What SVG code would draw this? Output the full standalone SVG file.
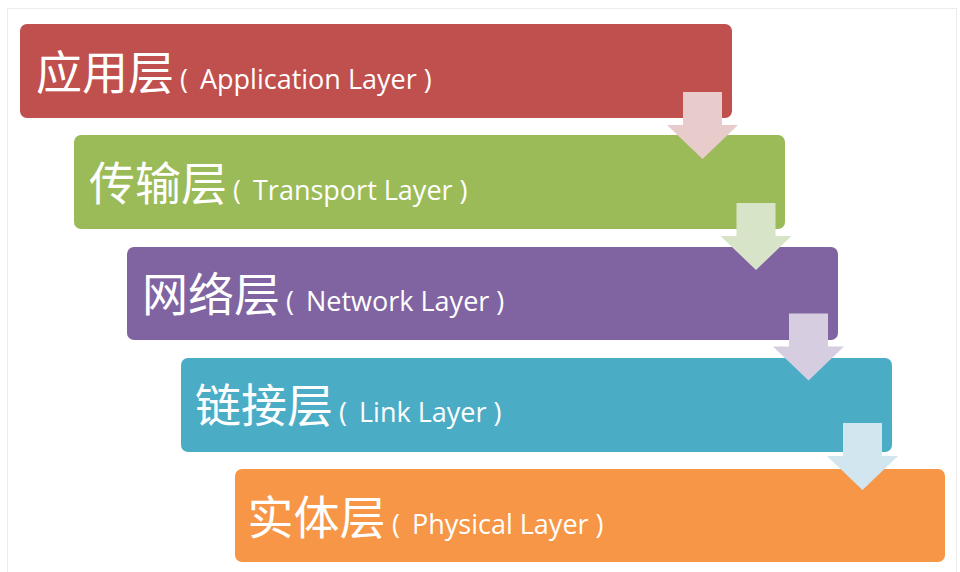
<svg xmlns="http://www.w3.org/2000/svg" xmlns:xlink="http://www.w3.org/1999/xlink" width="960" height="572" viewBox="0 0 960 572">
<style>
.bar{stroke:none}
.zh{font-family:"Noto Sans CJK SC","Noto Sans",sans-serif;font-size:46px;fill:#ffffff}
.en{font-family:"Open Sans","Noto Sans",sans-serif;font-size:27px;fill:#ffffff}
.arrow{stroke:none}
</style>
<defs>
<path id="arr" d="M0 0 h39 v33 h16 l-35.5 34 l-35.5 -34 h16 z"/>
</defs>
<rect x="7.5" y="8.5" width="949" height="580" fill="#ffffff" stroke="#ECECEC" stroke-width="1"/>
<g id="application">
<rect class="bar" x="20" y="24" width="712" height="94" rx="7" fill="#C0504D"/>
<text class="zh" x="36" y="89">应用层</text>
<text class="en" y="89"><tspan x="180">(</tspan><tspan x="200">Application Layer )</tspan></text>
</g>
<g id="transport">
<rect class="bar" x="74" y="135" width="711" height="94" rx="7" fill="#9BBB59"/>
<text class="zh" x="89" y="200">传输层</text>
<text class="en" y="200"><tspan x="233">(</tspan><tspan x="253">Transport Layer )</tspan></text>
</g>
<g id="network">
<rect class="bar" x="127" y="247" width="711" height="93" rx="7" fill="#8064A2"/>
<text class="zh" x="142" y="311">网络层</text>
<text class="en" y="311"><tspan x="286">(</tspan><tspan x="306">Network Layer )</tspan></text>
</g>
<g id="link">
<rect class="bar" x="181" y="358" width="711" height="94" rx="7" fill="#4BACC6"/>
<text class="zh" x="195" y="422">链接层</text>
<text class="en" y="422"><tspan x="339">(</tspan><tspan x="359">Link Layer )</tspan></text>
</g>
<g id="physical">
<rect class="bar" x="235" y="469" width="710" height="93" rx="7" fill="#F79646"/>
<text class="zh" x="247.5" y="533.5"><tspan>实体层</tspan></text>
<text class="en" y="533.5"><tspan x="392">(</tspan><tspan x="412">Physical Layer )</tspan></text>
</g>
<g id="connectors">
<use xlink:href="#arr" href="#arr" x="683" y="92" fill="#E8CCCC"/>
<use xlink:href="#arr" href="#arr" x="736.5" y="203" fill="#D8E4C8"/>
<use xlink:href="#arr" href="#arr" x="789" y="313.5" fill="#D6CDE1"/>
<use xlink:href="#arr" href="#arr" x="843" y="423" fill="#D1E6EE"/>
</g>
</svg>
